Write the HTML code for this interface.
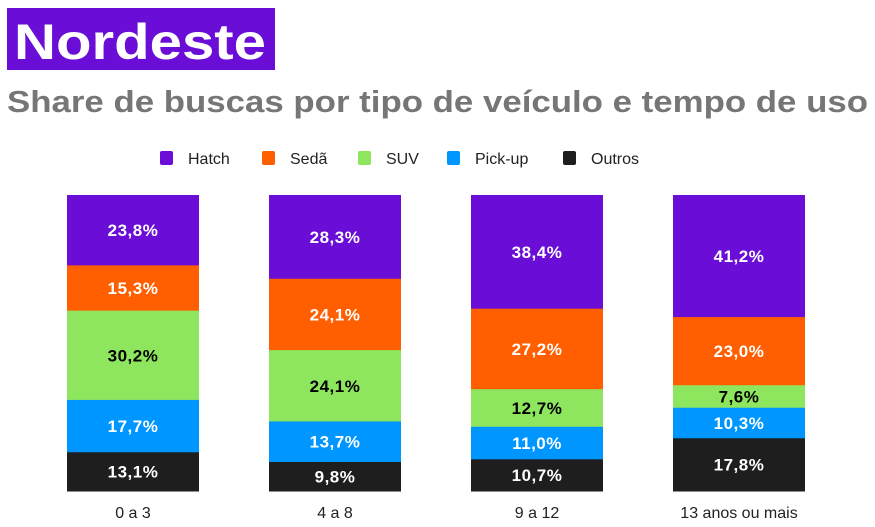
<!DOCTYPE html>
<html><head><meta charset="utf-8"><style>
body{margin:0;background:#fff;}
svg{display:block;font-family:"Liberation Sans","DejaVu Sans",sans-serif;}
</style></head><body>
<svg id="chart" width="875" height="527" viewBox="0 0 875 527">
<rect x="7" y="8" width="268" height="62" fill="#6a0dd6"/>
<text x="14" y="59" font-size="50" font-weight="bold" fill="#fff" textLength="252" lengthAdjust="spacingAndGlyphs">Nordeste</text>
<text x="7" y="112" font-size="31" font-weight="bold" fill="#767676" textLength="861" lengthAdjust="spacingAndGlyphs">Share de buscas por tipo de veículo e tempo de uso</text>
<g id="legend"></g>
<g id="bars"></g>
</svg>
<script>
const categories = ["0 a 3", "4 a 8", "9 a 12", "13 anos ou mais"];
const seriesNames = ["Hatch", "Sedã", "SUV", "Pick-up", "Outros"];
const hatch = [23.8, 28.3, 38.4, 41.2];
const seda = [15.3, 24.1, 27.2, 23.0];
const suv = [30.2, 24.1, 12.7, 7.6];
const pickup = [17.7, 13.7, 11.0, 10.3];
const outros = [13.1, 9.8, 10.7, 17.8];

const NS = "http://www.w3.org/2000/svg";
const colors = ["#6a0dd6", "#ff5f00", "#8ee65e", "#0096ff", "#1e1e1e"];
const textColors = ["#fff", "#fff", "#000", "#fff", "#fff"];
const series = [hatch, seda, suv, pickup, outros];
const barTop = 195, barBottom = 491, barW = 132, firstX = 67, step = 202;

function mk(tag, attrs, parent) {
  const el = document.createElementNS(NS, tag);
  for (const k in attrs) el.setAttribute(k, attrs[k]);
  parent.appendChild(el);
  return el;
}
function xPos(i) { return firstX + i * step; }

const legend = document.getElementById('legend');
const legX = [160, 262, 358, 447, 563];
seriesNames.forEach((n, s) => {
  const r = mk('rect', {x: legX[s], y: 151, width: 13, height: 14, rx: 2, fill: colors[s]}, legend);
  
  
  const t = mk('text', {x: legX[s] + 28, y: 164, 'font-size': 16, fill: '#222'}, legend);
  t.textContent = n;
  
  
});

const bars = document.getElementById('bars');
categories.forEach((c, i) => {
  const total = series.reduce((a, sv) => a + sv[i], 0);
  const scale = (barBottom - barTop) / total;
  let y = barTop;
  series.forEach((sv, s) => {
    const h = sv[i] * scale;
    const r = mk('rect', {x: xPos(i), y: y, width: barW, height: h + 0.5, fill: colors[s]}, bars);
    
    
    const t = mk('text', {x: xPos(i) + barW / 2, y: y + h / 2 + 6, 'font-size': 17, 'font-weight': 'bold', 'text-anchor': 'middle', fill: textColors[s], 'letter-spacing': '0.5'}, bars);
    t.textContent = sv[i].toFixed(1).replace('.', ',') + '%';
    
    
    y += h;
  });
  const l = mk('text', {x: xPos(i) + barW / 2, y: 518, 'font-size': 16, 'text-anchor': 'middle', fill: '#222'}, bars);
  l.textContent = c;
  
  
});
</script>
</body></html>
